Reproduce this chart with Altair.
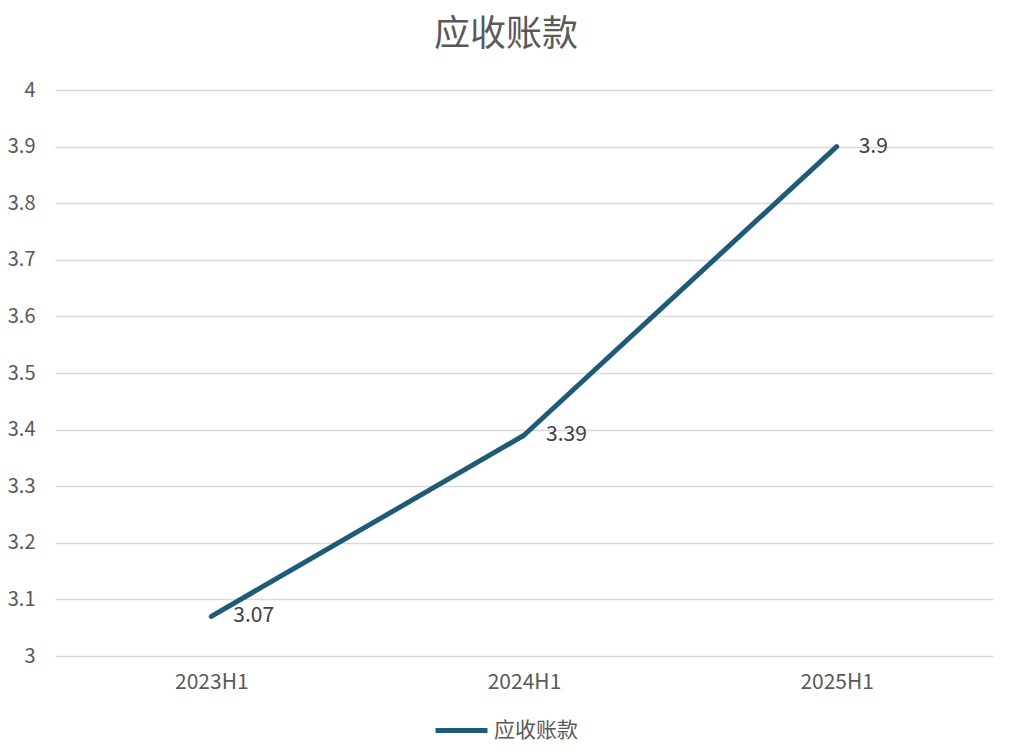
import altair as alt
import pandas as pd

periods = ["2023H1", "2024H1", "2025H1"]
values = [3.07, 3.39, 3.9]
series = ["应收账款"] * 3

df = pd.DataFrame({"period": periods, "value": values, "series": series})
df["label"] = [str(v) for v in values]

FONT = "Noto Sans CJK SC"
LINE = "#1d5b79"

base = alt.Chart(df).encode(
    x=alt.X("period:N", sort=periods, title=None,
            scale=alt.Scale(type="point", padding=0.5),
            axis=alt.Axis(labelAngle=0, labelFontSize=21, labelColor="#595959",
                          labelFont=FONT, ticks=False, domain=False, labelPadding=15,
                          grid=False)),
    y=alt.Y("value:Q", title=None,
            scale=alt.Scale(domain=[3, 4], nice=False, zero=False),
            axis=alt.Axis(values=[3 + i / 10 for i in range(11)], format="~g",
                          labelFontSize=20, labelColor="#595959", labelFont=FONT,
                          ticks=False, domain=False, labelPadding=20,
                          gridColor="#d9d9d9", gridWidth=1.5)),
)

line = base.mark_line(strokeWidth=5, strokeCap="round", strokeJoin="round").encode(
    color=alt.Color("series:N", scale=alt.Scale(range=[LINE]), title=None,
                    legend=alt.Legend(orient="none", legendX=378, legendY=612,
                                      symbolType="stroke", symbolSize=2700,
                                      symbolStrokeWidth=5, labelFontSize=21,
                                      labelFont=FONT, labelColor="#595959",
                                      labelOffset=4))
)

labels = base.mark_text(align="left", baseline="middle", dx=22, fontSize=21,
                        font=FONT, color="#404040").encode(text="label:N")

chart = (line + labels).properties(
    width=938, height=566,
    padding={"left": 47, "top": 82, "right": 10, "bottom": 90},
    autosize=alt.AutoSizeParams(type="none"),
    title=alt.TitleParams("应收账款", fontSize=36, font=FONT, color="#595959",
                          fontWeight="normal", anchor="middle", frame="group",
                          dx=-18, offset=26),
).configure_view(stroke=None)

chart.save("out.html", embed_options={"renderer": "svg", "actions": False})
